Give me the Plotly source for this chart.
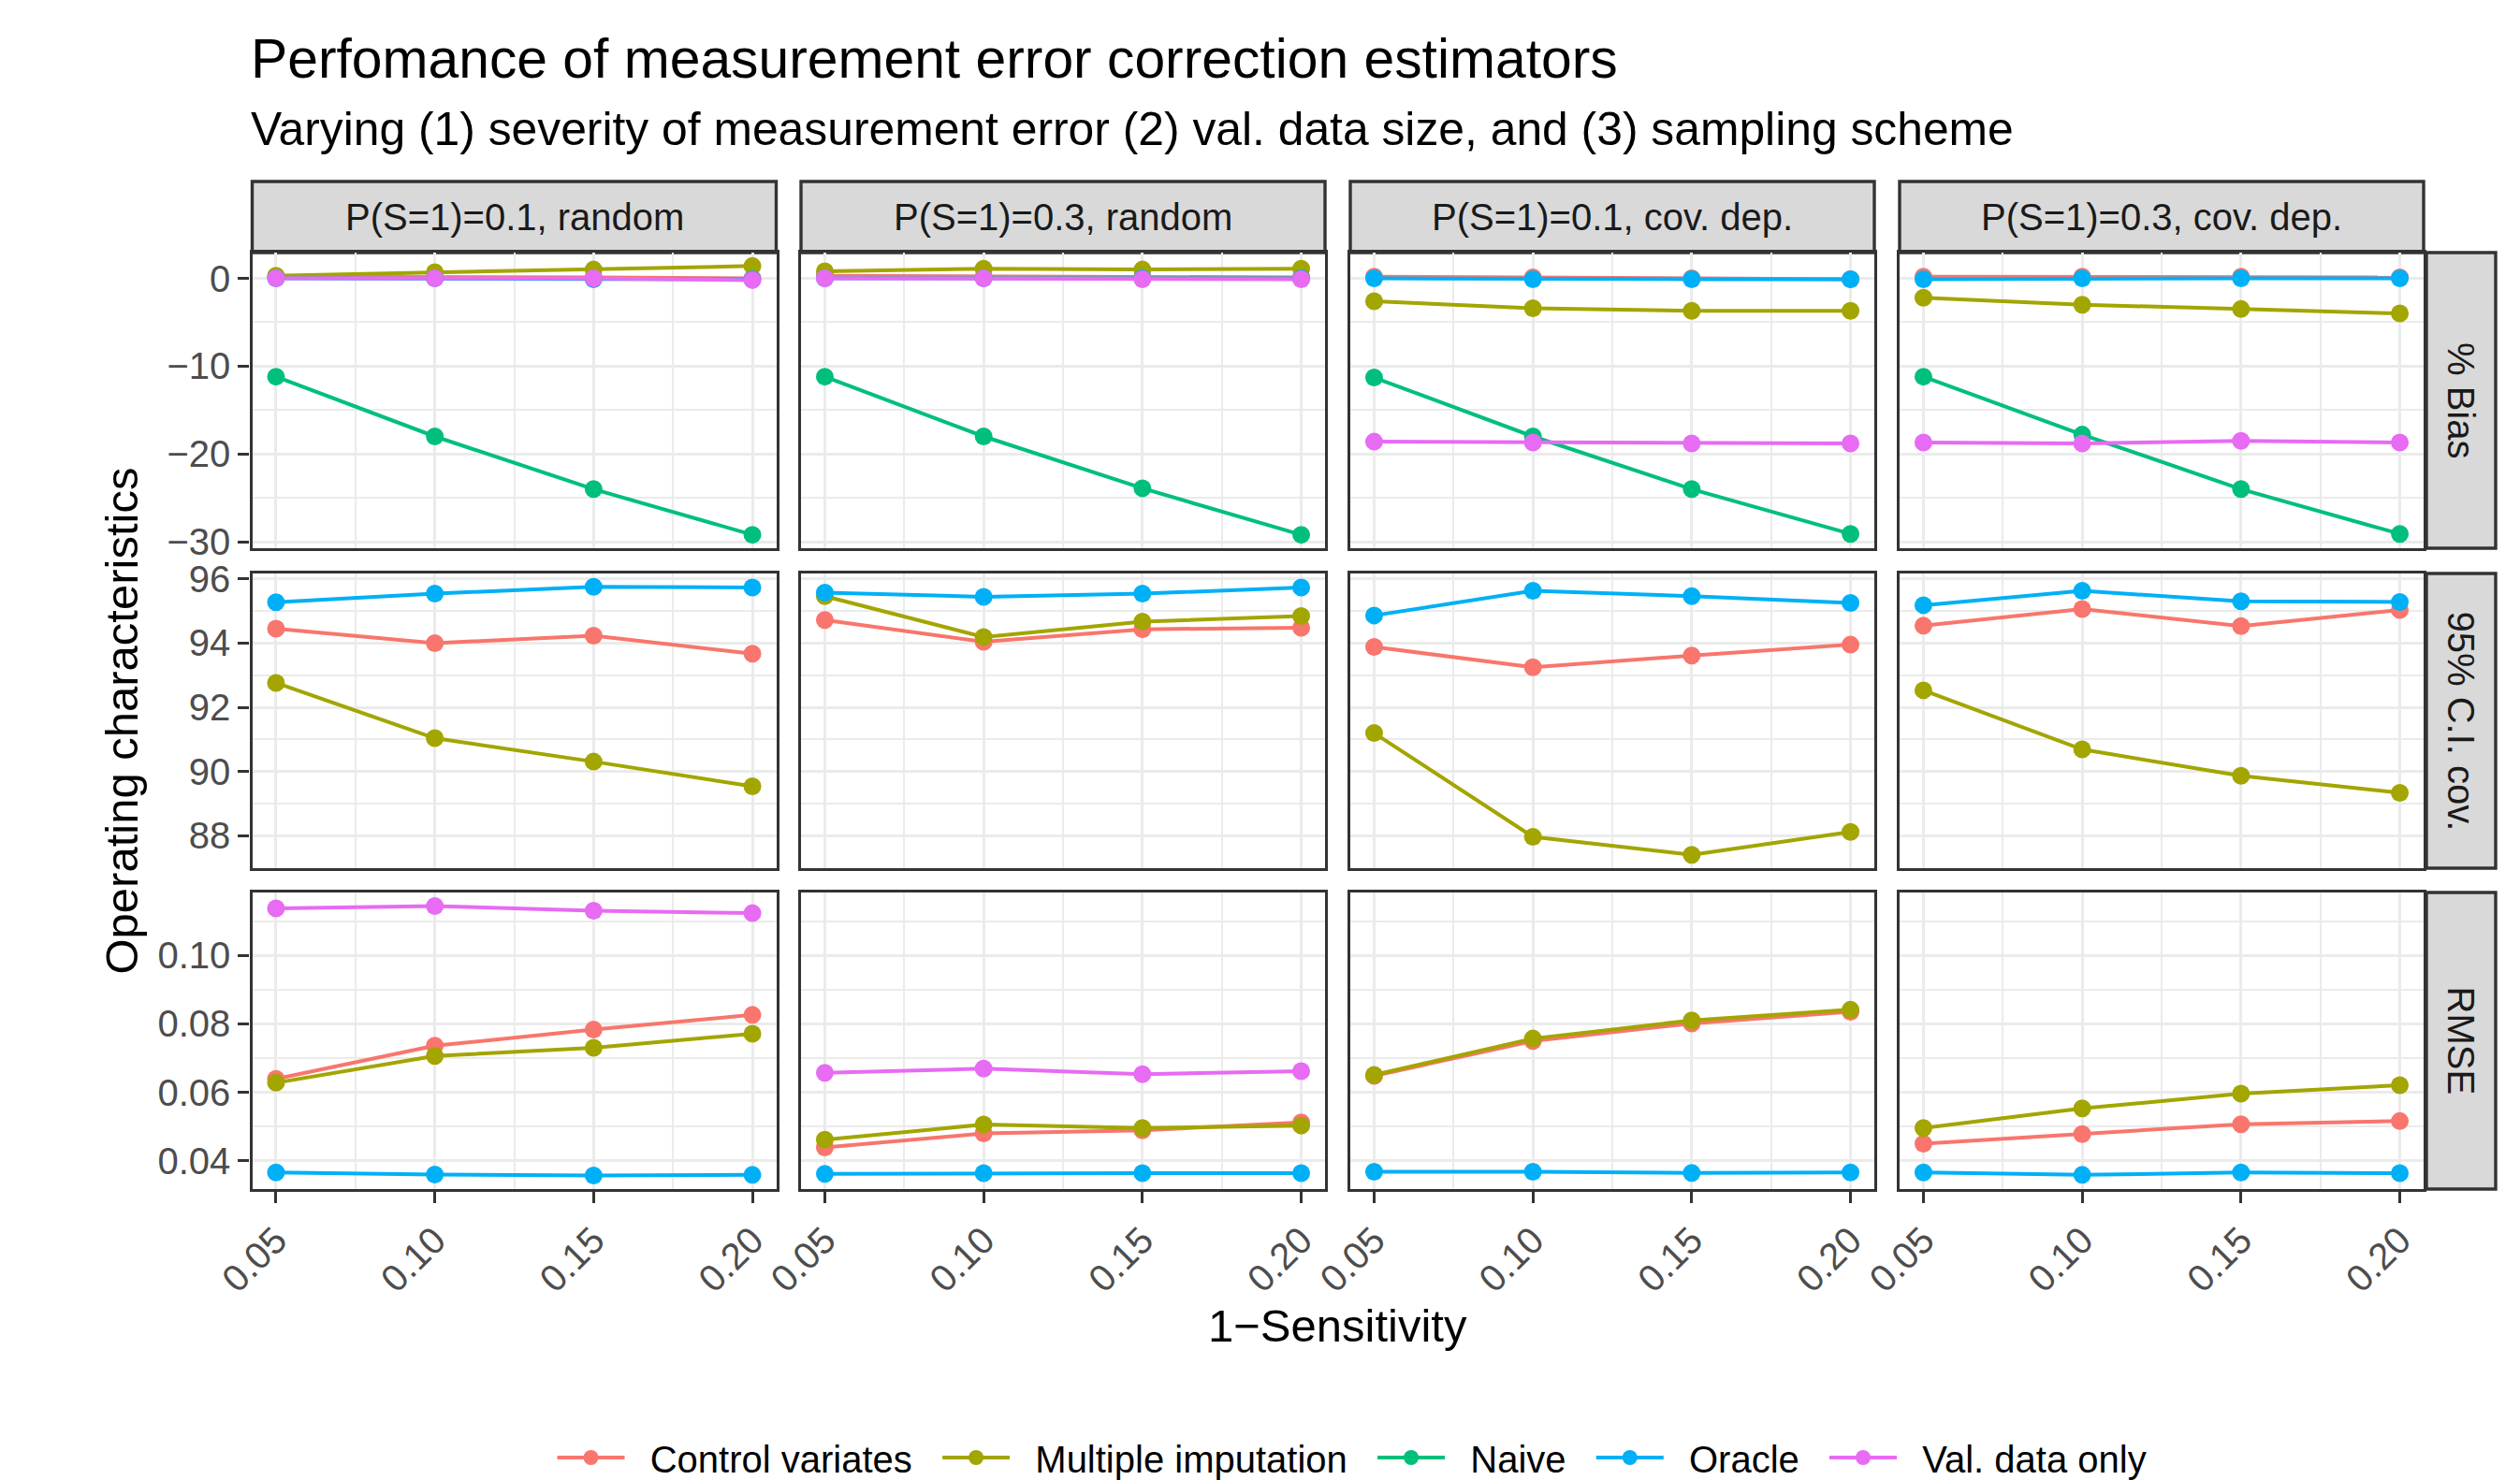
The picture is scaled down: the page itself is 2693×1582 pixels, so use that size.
import plotly.graph_objects as go

# ---------------- data ----------------
x_vals = [0.05, 0.10, 0.15, 0.20]
x_labels = ["0.05", "0.10", "0.15", "0.20"]
x_minor = [0.075, 0.125, 0.175]

scenarios = ["P(S=1)=0.1, random", "P(S=1)=0.3, random",
             "P(S=1)=0.1, cov. dep.", "P(S=1)=0.3, cov. dep."]
metrics = ["% Bias", "95% C.I. cov.", "RMSE"]
methods = ["Control variates", "Multiple imputation", "Naive", "Oracle", "Val. data only"]
colors = ["#F8766D", "#A3A500", "#00BF7D", "#00B0F6", "#E76BF3"]

# % Bias (one list per scenario, values at x_vals)
bias_cv = [[0.2, 0.2, 0.1, 0.0], [0.3, 0.2, 0.2, 0.1], [0.2, 0.1, 0.0, -0.1], [0.2, 0.2, 0.2, 0.1]]
bias_mi = [[0.3, 0.7, 1.0, 1.4], [0.8, 1.1, 1.0, 1.1], [-2.6, -3.4, -3.7, -3.7], [-2.2, -3.0, -3.5, -4.0]]
bias_naive = [[-11.2, -18.0, -24.0, -29.2], [-11.2, -18.0, -23.9, -29.2],
              [-11.3, -18.0, -24.0, -29.1], [-11.2, -17.8, -24.0, -29.1]]
bias_oracle = [[0.0, 0.0, -0.1, -0.1], [0.0, 0.0, 0.0, 0.0], [0.0, -0.1, -0.1, -0.1], [-0.1, 0.0, 0.0, 0.0]]
bias_val = [[0.0, 0.0, 0.0, -0.2], [0.0, 0.0, -0.1, -0.1], [-18.6, -18.7, -18.8, -18.8], [-18.7, -18.8, -18.5, -18.7]]

# 95% C.I. coverage
cov_cv = [[94.45, 94.0, 94.23, 93.67], [94.72, 94.04, 94.43, 94.48],
          [93.88, 93.25, 93.61, 93.95], [94.54, 95.06, 94.53, 95.03]]
cov_mi = [[92.76, 91.04, 90.31, 89.54], [95.46, 94.19, 94.67, 94.84],
          [91.2, 87.97, 87.41, 88.12], [92.53, 90.69, 89.87, 89.34]]
cov_oracle = [[95.27, 95.54, 95.75, 95.73], [95.57, 95.44, 95.54, 95.73],
              [94.86, 95.63, 95.46, 95.25], [95.18, 95.63, 95.30, 95.28]]

# RMSE
rmse_cv = [[0.0639, 0.0736, 0.0783, 0.0826], [0.0439, 0.0480, 0.0489, 0.0512],
           [0.0648, 0.0750, 0.0801, 0.0835], [0.0450, 0.0478, 0.0507, 0.0516]]
rmse_mi = [[0.0628, 0.0706, 0.0730, 0.0771], [0.0462, 0.0506, 0.0496, 0.0503],
           [0.0651, 0.0757, 0.0810, 0.0841], [0.0496, 0.0553, 0.0596, 0.0621]]
rmse_oracle = [[0.0366, 0.0360, 0.0357, 0.0359], [0.0362, 0.0364, 0.0364, 0.0364],
               [0.0368, 0.0368, 0.0365, 0.0366], [0.0366, 0.0359, 0.0366, 0.0364]]
rmse_val = [[0.1137, 0.1144, 0.1130, 0.1123], [0.0657, 0.0669, 0.0653, 0.0662], None, None]

bias_ticks = [0, -10, -20, -30]
bias_ticklabels = ["0", "\u221210", "\u221220", "\u221230"]
bias_minor = [-5, -15, -25]
cov_ticks = [88, 90, 92, 94, 96]
cov_ticklabels = ["88", "90", "92", "94", "96"]
cov_minor = [89, 91, 93, 95]
rmse_ticks = [0.04, 0.06, 0.08, 0.10]
rmse_ticklabels = ["0.04", "0.06", "0.08", "0.10"]
rmse_minor = [0.05, 0.07, 0.09, 0.11]

# table: metric -> method -> per-scenario lists (None = not shown)
table = {
    "% Bias": [bias_cv, bias_mi, bias_naive, bias_oracle, bias_val],
    "95% C.I. cov.": [cov_cv, cov_mi, None, cov_oracle, None],
    "RMSE": [rmse_cv, rmse_mi, None, rmse_oracle, rmse_val],
}
ticks = {
    "% Bias": (bias_ticks, bias_ticklabels, bias_minor),
    "95% C.I. cov.": (cov_ticks, cov_ticklabels, cov_minor),
    "RMSE": (rmse_ticks, rmse_ticklabels, rmse_minor),
}

# ---------------- layout geometry ----------------
W, H = 2693, 1582
col_px = [(269.5, 829.5), (856, 1416), (1443, 2003), (2030, 2590)]
row_px = [(270, 586), (613, 928), (954, 1271)]
strip_top = 194
rstrip = (2593, 2667)

BASE = 49
FONT = "Liberation Sans, Arial, Helvetica, sans-serif"
GRID = "#EBEBEB"
DARK = "#333333"
LW = 3.4
DLW = 4.0
MS = 19


def px_x(p):
    return p / W


def px_y(p):
    return 1 - p / H


def expand(vals, mult=0.05):
    lo, hi = min(vals), max(vals)
    d = (hi - lo) * mult
    return [lo - d, hi + d]


fig = go.Figure()
layout = dict(
    template="none",
    width=W, height=H,
    margin=dict(l=0, r=0, t=0, b=0, autoexpand=False),
    paper_bgcolor="white", plot_bgcolor="white",
    font=dict(family=FONT, size=BASE, color="black"),
    showlegend=True,
)

x_range = expand(x_vals)

for r, metric in enumerate(metrics):
    allv = []
    for series in table[metric]:
        if series is None:
            continue
        for s in series:
            if s is not None:
                allv.extend(s)
    y_range = expand(allv)
    tv, tt, tm = ticks[metric]
    for c in range(4):
        k = r * 4 + c + 1
        xa = "xaxis" if k == 1 else f"xaxis{k}"
        ya = "yaxis" if k == 1 else f"yaxis{k}"
        layout[xa] = dict(
            domain=[px_x(col_px[c][0]), px_x(col_px[c][1])],
            anchor=f"y{'' if k == 1 else k}", automargin=False,
            range=x_range, tickmode="array", tickvals=x_vals, ticktext=x_labels,
            showticklabels=(r == 2), ticks="outside" if r == 2 else "",
            ticklen=12, tickwidth=LW, tickcolor=DARK, tickangle=-45,
            tickfont=dict(size=40, color="#4D4D4D", family=FONT),
            showgrid=True, gridcolor=GRID, gridwidth=LW, zeroline=False,
            minor=dict(tickmode="array", tickvals=x_minor, showgrid=True,
                       gridcolor=GRID, gridwidth=LW / 2, ticks=""),
            showline=True, mirror=True, linecolor=DARK, linewidth=LW,
            fixedrange=True,
        )
        layout[ya] = dict(
            domain=[px_y(row_px[r][1]), px_y(row_px[r][0])],
            anchor=f"x{'' if k == 1 else k}", automargin=False,
            range=y_range, tickmode="array", tickvals=tv, ticktext=tt,
            showticklabels=(c == 0), ticks="outside" if c == 0 else "",
            ticklen=12, tickwidth=LW, tickcolor=DARK,
            tickfont=dict(size=40, color="#4D4D4D", family=FONT),
            showgrid=True, gridcolor=GRID, gridwidth=LW, zeroline=False,
            minor=dict(tickmode="array", tickvals=tm, showgrid=True,
                       gridcolor=GRID, gridwidth=LW / 2, ticks=""),
            showline=True, mirror=True, linecolor=DARK, linewidth=LW,
            fixedrange=True,
        )

# lines first (all series), then points, as ggplot layers them
for mode in ["lines", "markers"]:
    for r, metric in enumerate(metrics):
        for c in range(4):
            k = r * 4 + c + 1
            xr = "x" if k == 1 else f"x{k}"
            yr = "y" if k == 1 else f"y{k}"
            for m, series in enumerate(table[metric]):
                if series is None or series[c] is None:
                    continue
                fig.add_trace(go.Scatter(
                    x=x_vals, y=series[c], mode=mode, xaxis=xr, yaxis=yr,
                    line=dict(color=colors[m], width=DLW),
                    marker=dict(color=colors[m], size=MS, line=dict(width=0)),
                    showlegend=False, hoverinfo="skip",
                ))

# legend entries (no-break spaces give ggplot-like spacing around keys)
NB = "\u00a0"
for m, name in enumerate(methods):
    fig.add_trace(go.Scatter(
        x=[None], y=[None], mode="lines+markers", name=NB * 2 + name + NB * 2,
        line=dict(color=colors[m], width=DLW),
        marker=dict(color=colors[m], size=MS, line=dict(width=0)),
        showlegend=True,
    ))

shapes = []
annotations = []

# top strips
for c, sc in enumerate(scenarios):
    shapes.append(dict(type="rect", xref="paper", yref="paper",
                       x0=px_x(col_px[c][0]), x1=px_x(col_px[c][1]),
                       y0=px_y(row_px[0][0]), y1=px_y(strip_top),
                       fillcolor="#D9D9D9", line=dict(color=DARK, width=LW), layer="below"))
    annotations.append(dict(text=sc, xref="paper", yref="paper",
                            x=px_x((col_px[c][0] + col_px[c][1]) / 2),
                            y=px_y((strip_top + row_px[0][0]) / 2),
                            xanchor="center", yanchor="middle", showarrow=False,
                            font=dict(size=40, color="#1A1A1A", family=FONT)))

# right strips
for r, metric in enumerate(metrics):
    shapes.append(dict(type="rect", xref="paper", yref="paper",
                       x0=px_x(rstrip[0]), x1=px_x(rstrip[1]),
                       y0=px_y(row_px[r][1]), y1=px_y(row_px[r][0]),
                       fillcolor="#D9D9D9", line=dict(color=DARK, width=LW), layer="below"))
    annotations.append(dict(text=metric, xref="paper", yref="paper",
                            x=px_x((rstrip[0] + rstrip[1]) / 2),
                            y=px_y((row_px[r][0] + row_px[r][1]) / 2),
                            xanchor="center", yanchor="middle", showarrow=False, textangle=90,
                            font=dict(size=40, color="#1A1A1A", family=FONT)))

# titles
annotations.append(dict(text="Perfomance of measurement error correction estimators",
                        xref="paper", yref="paper", x=px_x(266), y=px_y(63),
                        xanchor="left", yanchor="middle", showarrow=False,
                        font=dict(size=58.8, color="black", family=FONT)))
annotations.append(dict(text="Varying (1) severity of measurement error (2) val. data size, and (3) sampling scheme",
                        xref="paper", yref="paper", x=px_x(266), y=px_y(138),
                        xanchor="left", yanchor="middle", showarrow=False,
                        font=dict(size=49.8, color="black", family=FONT)))
annotations.append(dict(text="1\u2212Sensitivity", xref="paper", yref="paper",
                        x=px_x((col_px[0][0] + col_px[3][1]) / 2), y=px_y(1417),
                        xanchor="center", yanchor="middle", showarrow=False,
                        font=dict(size=BASE, color="black", family=FONT)))
annotations.append(dict(text="Operating characteristics", xref="paper", yref="paper",
                        x=px_x(129), y=px_y((row_px[0][0] + row_px[2][1]) / 2),
                        xanchor="center", yanchor="middle", showarrow=False, textangle=-90,
                        font=dict(size=BASE, color="black", family=FONT)))

layout["shapes"] = shapes
layout["annotations"] = annotations
layout["legend"] = dict(orientation="h", x=px_x(1456), xanchor="center",
                        y=px_y(1558), yanchor="middle",
                        font=dict(size=40, color="black", family=FONT),
                        itemwidth=72, bgcolor="rgba(0,0,0,0)", borderwidth=0)

fig.update_layout(**layout)
fig.write_html("out.html", post_script="document.body.style.margin='0';",
               config={"displayModeBar": False})
